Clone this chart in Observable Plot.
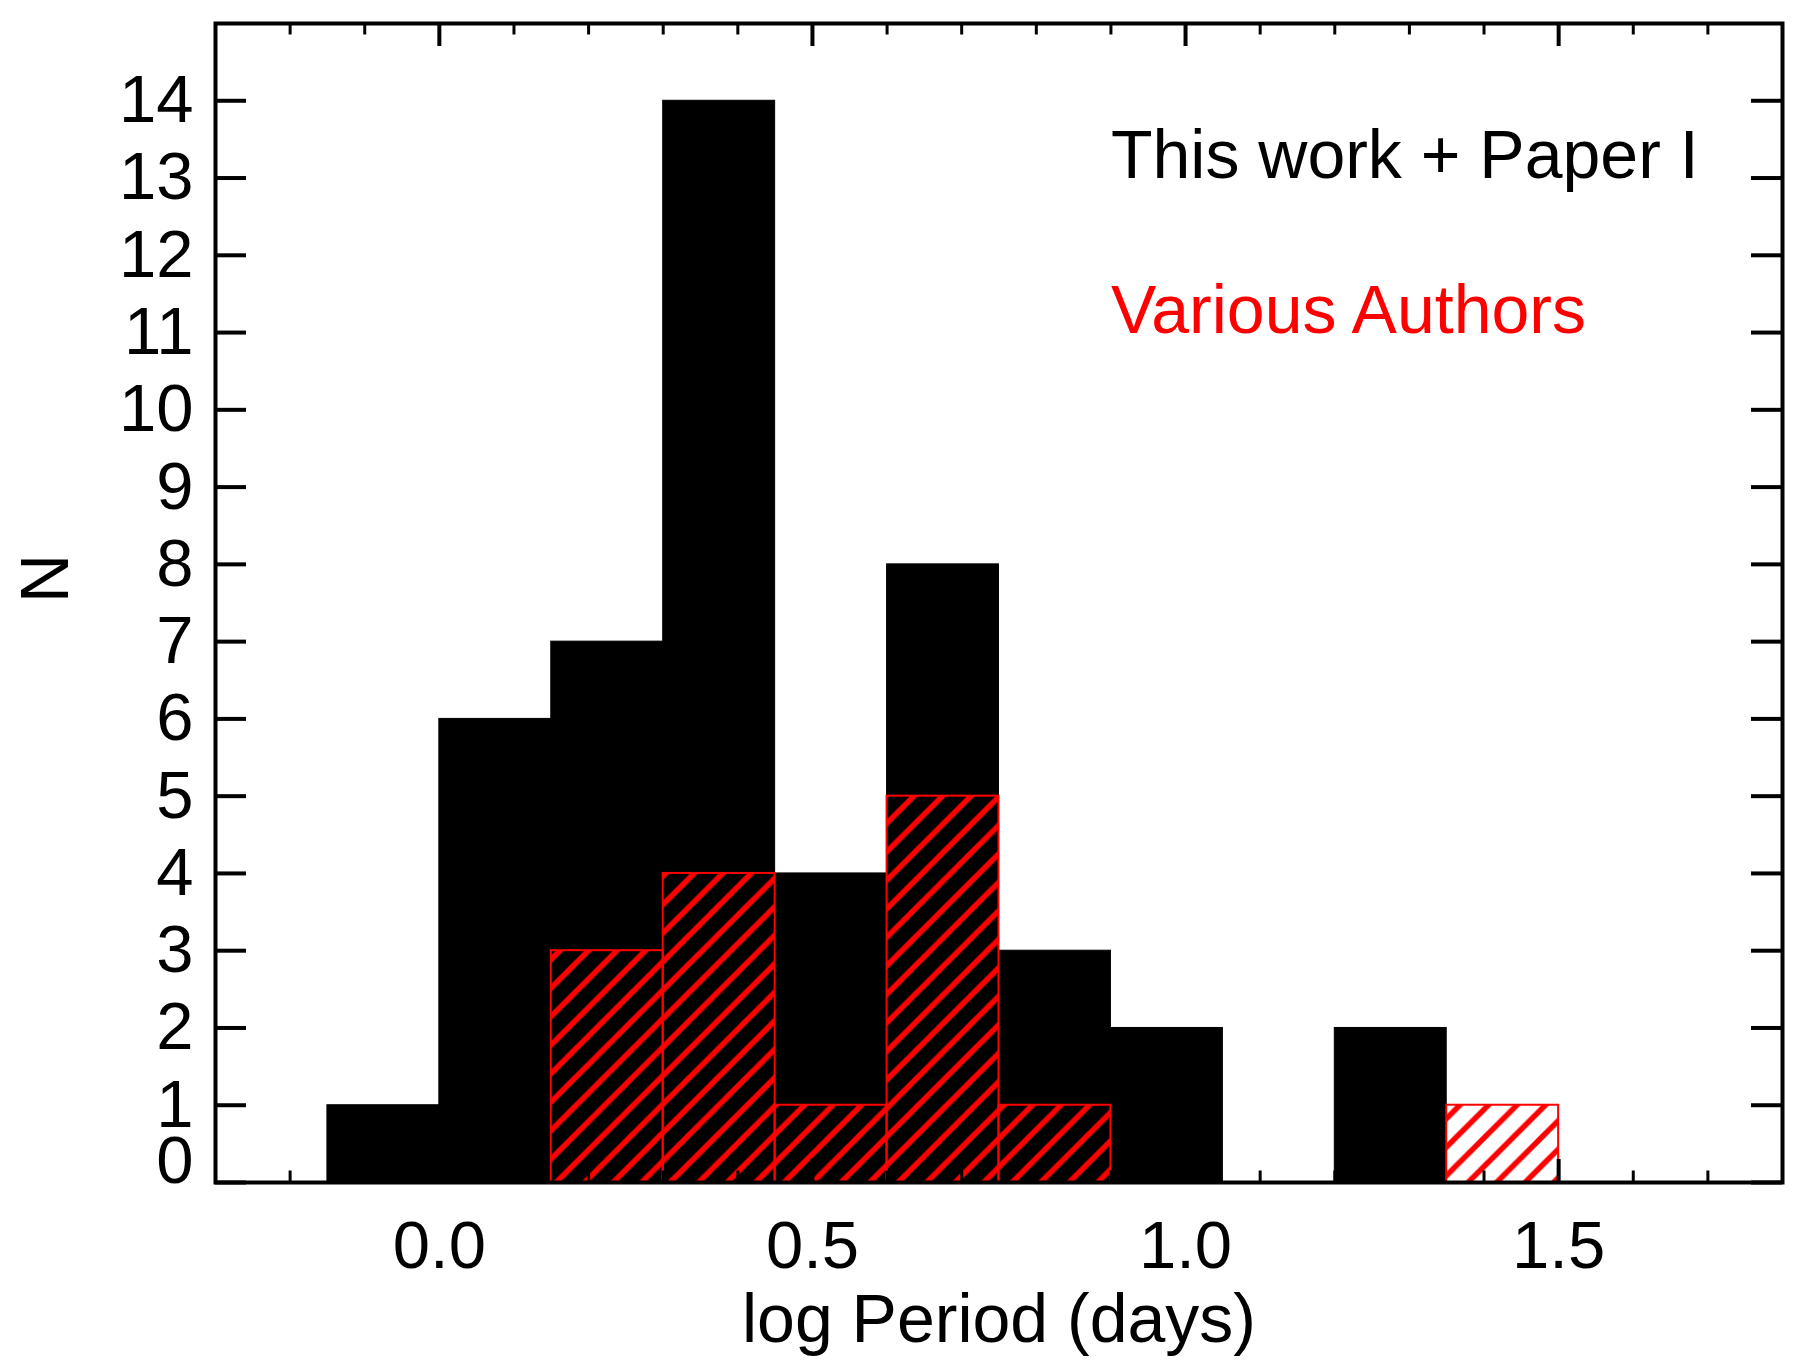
<!DOCTYPE html>
<html><head><meta charset="utf-8">
<script src="https://cdn.jsdelivr.net/npm/d3@7"></script>
<script src="https://cdn.jsdelivr.net/npm/@observablehq/plot@0.6"></script>
<style>html,body{margin:0;padding:0;background:#fff;overflow:hidden}</style>
</head><body><div id="chart"></div>
<script>
// ---- data ----
const binStart = [-0.15, 0.00, 0.15, 0.30, 0.45, 0.60, 0.75, 0.90, 1.05, 1.20, 1.35];
const binWidth = 0.15;
const thisWork = [1, 6, 7, 14, 4, 8, 3, 2, 0, 2, 0];
const variousAuthors = [0, 0, 3, 4, 1, 5, 1, 0, 0, 0, 1];
const xMajorTicks = [0.0, 0.5, 1.0, 1.5];
const xMinorTicks = [-0.2, -0.1, 0.1, 0.2, 0.3, 0.4, 0.6, 0.7, 0.8, 0.9, 1.1, 1.2, 1.3, 1.4, 1.6, 1.7];
const yTicks = [0, 1, 2, 3, 4, 5, 6, 7, 8, 9, 10, 11, 12, 13, 14];
const xDomain = [-0.3, 1.8];
const yDomain = [0, 15];
const labelThis = "This work + Paper I";
const labelVarious = "Various Authors";
const legendPos = [{x: 0.9, y: 13, text: labelThis, color: "black"}, {x: 0.9, y: 11, text: labelVarious, color: "red"}];
const xLabel = "log Period (days)";
const yLabel = "N";

// ---- layout ----
const W = 1813, H = 1368;
const mL = 215, mR = 31, mT = 23, mB = 186;
const innerW = W - mL - mR, innerH = H - mT - mB;
const font = "'Liberation Sans', Arial, Helvetica, sans-serif";
const FS = 67;
const FSL = 68;

const black = binStart.map((s, i) => ({x1: s, x2: s + binWidth, n: thisWork[i]})).filter(d => d.n > 0);
const redAll = binStart.map((s, i) => ({x1: s, x2: s + binWidth, n: variousAuthors[i]}));
const red = redAll.filter(d => d.n > 0);
const firstRed = redAll.findIndex(d => d.n > 0);
const lastRed = redAll.length - 1 - [...redAll].reverse().findIndex(d => d.n > 0);
const redBase = [{x1: redAll[firstRed].x1, x2: redAll[lastRed].x2}];

function hatchDefs() {
  const p = 28.5, w = 6;
  const defs = d3.create("svg:defs");
  const pat = defs.append("pattern").attr("id", "hatch")
    .attr("patternUnits", "userSpaceOnUse").attr("width", p).attr("height", p);
  pat.append("path")
    .attr("d", `M${-w},${w}L${w},${-w}M0,${p}L${p},0M${p - w},${p + w}L${p + w},${p - w}`)
    .attr("stroke", "#ff0000").attr("stroke-width", 5.5).attr("fill", "none");
  return defs.node();
}

const tickLenX = 23, tickLenXMinor = 11.5, tickLenY = 31;

const chart = Plot.plot({
  width: W, height: H,
  marginLeft: mL, marginRight: mR, marginTop: mT, marginBottom: mB,
  style: {fontFamily: font, fontSize: FS + "px", color: "black", background: "white"},
  x: {domain: xDomain},
  y: {domain: yDomain},
  marks: [
    hatchDefs,
    Plot.rect(black, {x1: "x1", x2: "x2", y1: 0, y2: "n", fill: "black", stroke: "black", strokeWidth: 1}),
    Plot.rect(red, {x1: "x1", x2: "x2", y1: 0, y2: "n", fill: "url(#hatch)", stroke: "#ff0000", strokeWidth: 2}),
    Plot.ruleY(redBase, {x1: "x1", x2: "x2", y: 0, stroke: "#ff0000", strokeWidth: 2}),
    // bottom & top ticks (inward)
    Plot.tickX(xMajorTicks, {x: d => d, insetTop: innerH - tickLenX, stroke: "black", strokeWidth: 4}),
    Plot.tickX(xMinorTicks, {x: d => d, insetTop: innerH - tickLenXMinor, stroke: "black", strokeWidth: 3}),
    Plot.tickX(xMajorTicks, {x: d => d, insetBottom: innerH - tickLenX, stroke: "black", strokeWidth: 4}),
    Plot.tickX(xMinorTicks, {x: d => d, insetBottom: innerH - tickLenXMinor, stroke: "black", strokeWidth: 3}),
    // left & right ticks (inward)
    Plot.tickY(yTicks, {y: d => d, insetRight: innerW - tickLenY, stroke: "black", strokeWidth: 4}),
    Plot.tickY(yTicks, {y: d => d, insetLeft: innerW - tickLenY, stroke: "black", strokeWidth: 4}),
    Plot.frame({stroke: "black", strokeWidth: 4}),
    // tick labels
    Plot.axisX({anchor: "bottom", ticks: xMajorTicks, tickSize: 0, tickPadding: 38, tickFormat: d3.format(".1f"), fontSize: FS, label: null}),
    Plot.axisY({anchor: "left", ticks: yTicks.filter(d => d > 0), tickSize: 0, tickPadding: 22, tickFormat: d3.format("d"), fontSize: FS, label: null}),
    Plot.text(yTicks.filter(d => d === 0), {y: d => d, frameAnchor: "left", text: d => String(d), textAnchor: "end", lineAnchor: "bottom", dx: -22, fontSize: FS, fill: "black"}),
    // axis titles
    Plot.text([xLabel], {frameAnchor: "bottom", text: d => d, lineAnchor: "bottom", dy: 159, fontSize: FSL, fill: "black"}),
    Plot.text([yLabel], {frameAnchor: "left", text: d => d, rotate: -90, lineAnchor: "bottom", dx: -148, fontSize: FSL, fill: "black"}),
    // legend labels
    Plot.text(legendPos, {x: "x", y: "y", text: "text", fill: "color", textAnchor: "start", lineAnchor: "bottom", fontSize: FSL})
  ]
});
document.getElementById("chart").appendChild(chart);
</script>
</body></html>
